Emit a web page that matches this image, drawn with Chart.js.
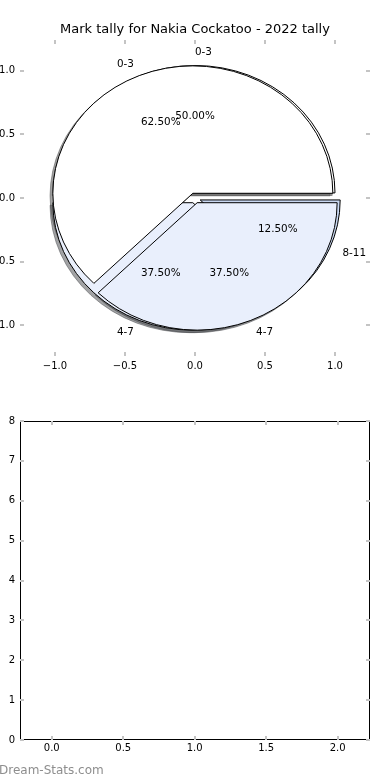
<!DOCTYPE html>
<html><head><meta charset="utf-8">
<script src="https://cdn.jsdelivr.net/npm/chart.js@4.4.0/dist/chart.umd.min.js"></script>
<style>
html,body{margin:0;padding:0;background:#fff;}
#wrap{position:relative;width:390px;height:780px;overflow:hidden;background:#fff;}
#c1wrap{position:absolute;left:0;top:0;width:390px;height:390px;}
#c2wrap{position:absolute;left:0;top:390px;width:390px;height:390px;}
#wm{position:absolute;left:-1px;top:763px;font:12px "DejaVu Sans";color:#8e8e8e;white-space:nowrap;}
</style></head><body>
<div id="wrap">
<div id="c1wrap"><canvas id="c1" width="390" height="390"></canvas></div>
<div id="c2wrap"><canvas id="c2" width="390" height="390"></canvas></div>
<div id="wm">Dream-Stats.com</div>
</div>
<script>
// ---- data ----
const chartTitle = 'Mark tally for Nakia Cockatoo - 2022 tally';
const pieACategories = ['0-3', '4-7', '8-11'];
const pieAValues = [4, 3, 1];
const pieBCategories = ['0-3', '4-7'];
const pieBValues = [5, 3];
const pieAxisTicks = [-1, -0.5, 0, 0.5, 1];
const barXTicks = [0, 0.5, 1, 1.5, 2];
const barYTicks = [0, 1, 2, 3, 4, 5, 6, 7, 8];

// ---- styles ----
const sliceColors = {'0-3': '#ffffff', '4-7': '#e9effc', '8-11': '#c9d8f2'};
const EXPLODE = 0.04;
const FONT = '"DejaVu Sans", "Liberation Sans", sans-serif';
const TICK_COLOR = '#c4c4c4';

function fmt1(v) { return (v < 0 ? '\u2212' : '') + Math.abs(v).toFixed(1); }

function hexRgb(h) { return [parseInt(h.slice(1,3),16), parseInt(h.slice(3,5),16), parseInt(h.slice(5,7),16)]; }

const innerTicks = {
  id: 'innerTicks',
  afterDraw(chart, args, opts) {
    const ctx = chart.ctx, a = chart.chartArea, xs = chart.scales.x, ys = chart.scales.y;
    ctx.save();
    if (opts.frame) {
      ctx.strokeStyle = '#000'; ctx.lineWidth = 1;
      ctx.strokeRect(Math.round(a.left) + 0.5, Math.round(a.top) + 0.5, Math.round(a.right - a.left) - 1, Math.round(a.bottom - a.top) - 1);
    }
    ctx.strokeStyle = TICK_COLOR; ctx.lineWidth = 2;
    const L = 4;
    xs.ticks.forEach(t => {
      const x = Math.round(xs.getPixelForValue(t.value));
      ctx.beginPath(); ctx.moveTo(x, a.bottom); ctx.lineTo(x, a.bottom - L);
      ctx.moveTo(x, a.top); ctx.lineTo(x, a.top + L); ctx.stroke();
    });
    ys.ticks.forEach(t => {
      const y = Math.round(ys.getPixelForValue(t.value));
      ctx.beginPath(); ctx.moveTo(a.left, y); ctx.lineTo(a.left + L, y);
      ctx.moveTo(a.right, y); ctx.lineTo(a.right - L, y); ctx.stroke();
    });
    ctx.restore();
  }
};

const pieDrawer = {
  id: 'pieDrawer',
  afterDatasetsDraw(chart) {
    const ctx = chart.ctx, xs = chart.scales.x, ys = chart.scales.y, a = chart.chartArea;
    const px = v => xs.getPixelForValue(v), py = v => ys.getPixelForValue(v);
    const rx = px(1) - px(0), ry = py(0) - py(1);
    function wedges(cats, vals) {
      const total = vals.reduce((s, v) => s + v, 0);
      let acc = 0;
      return vals.map((v, i) => {
        const t1 = acc / total * 2 * Math.PI; acc += v; const t2 = acc / total * 2 * Math.PI;
        const mid = (t1 + t2) / 2;
        return {t1, t2, mid, cx: EXPLODE * Math.cos(mid), cy: EXPLODE * Math.sin(mid),
                color: sliceColors[cats[i]], label: cats[i], pct: (v / total * 100).toFixed(2) + '%'};
      });
    }
    const A = wedges(pieACategories, pieAValues);
    const B = wedges(pieBCategories, pieBValues);
    function path(w, ox, oy) {
      const X = px(w.cx + ox), Y = py(w.cy + oy);
      ctx.beginPath(); ctx.moveTo(X, Y);
      ctx.ellipse(X, Y, rx, ry, 0, -w.t1, -w.t2, true);
      ctx.closePath();
    }
    ctx.save();
    ctx.beginPath(); ctx.rect(a.left, a.top, a.right - a.left, a.bottom - a.top); ctx.clip();
    // shadows
    [...A, ...B].forEach(w => {
      const c = hexRgb(w.color).map(v => Math.round(v * 0.3));
      const col = `rgba(${c[0]},${c[1]},${c[2]},0.5)`;
      path(w, -0.02, -0.02);
      ctx.fillStyle = col; ctx.fill();
      ctx.strokeStyle = col; ctx.lineWidth = 1; ctx.stroke();
    });
    // wedges
    [...A, ...B].forEach(w => {
      path(w, 0, 0);
      ctx.fillStyle = w.color; ctx.fill();
      ctx.strokeStyle = '#000'; ctx.lineWidth = 1; ctx.lineJoin = 'miter'; ctx.stroke();
    });
    ctx.restore();
    // texts
    ctx.save();
    ctx.font = '10.4px ' + FONT; ctx.fillStyle = '#000'; ctx.textBaseline = 'middle';
    [...A, ...B].forEach(w => {
      const xt = w.cx + 1.1 * Math.cos(w.mid), yt = w.cy + 1.1 * Math.sin(w.mid);
      ctx.textAlign = xt > 0 ? 'left' : 'right';
      ctx.fillText(w.label, px(xt), py(yt));
      const xp = w.cx + 0.6 * Math.cos(w.mid), yp = w.cy + 0.6 * Math.sin(w.mid);
      ctx.textAlign = 'center';
      ctx.fillText(w.pct, px(xp), py(yp));
    });
    ctx.restore();
    // title
    ctx.save();
    ctx.font = '13px ' + FONT; ctx.fillStyle = '#000'; ctx.textAlign = 'center'; ctx.textBaseline = 'middle';
    ctx.fillText(chartTitle, (a.left + a.right) / 2, 30);
    ctx.restore();
  }
};

function axisCfg(min, max, ticksArr, fmt, isX, fitSize, pad) {
  return {
    type: 'linear', min, max,
    afterBuildTicks: s => { s.ticks = ticksArr.map(v => ({value: v})); },
    afterFit: s => { if (isX) s.height = fitSize; else s.width = fitSize; },
    grid: {display: false, drawTicks: false},
    border: {display: false},
    ticks: {font: {family: FONT, size: 10}, color: '#000', padding: pad, autoSkip: false, maxRotation: 0,
            callback: v => fmt(v)}
  };
}

new Chart(document.getElementById('c1'), {
  type: 'scatter',
  data: {datasets: [{data: []}]},
  options: {
    responsive: false, animation: false, events: [],
    layout: {padding: {top: 40, right: 20, left: 0, bottom: 0}},
    plugins: {legend: {display: false}, tooltip: {enabled: false}, innerTicks: {frame: false}},
    scales: {
      x: axisCfg(-1.25, 1.25, pieAxisTicks, fmt1, true, 34, 4),
      y: axisCfg(-1.24, 1.24, pieAxisTicks, fmt1, false, 20, 5)
    }
  },
  plugins: [pieDrawer, innerTicks]
});

new Chart(document.getElementById('c2'), {
  type: 'scatter',
  data: {datasets: [{data: []}]},
  options: {
    responsive: false, animation: false, events: [],
    layout: {padding: {top: 31, right: 20, left: 0, bottom: 0}},
    plugins: {legend: {display: false}, tooltip: {enabled: false}, innerTicks: {frame: true}},
    scales: {
      x: axisCfg(-0.222, 2.226, barXTicks, fmt1, true, 40, 2),
      y: axisCfg(0, 8, barYTicks, v => String(v), false, 20, 5)
    }
  },
  plugins: [innerTicks]
});
</script>
</body></html>
